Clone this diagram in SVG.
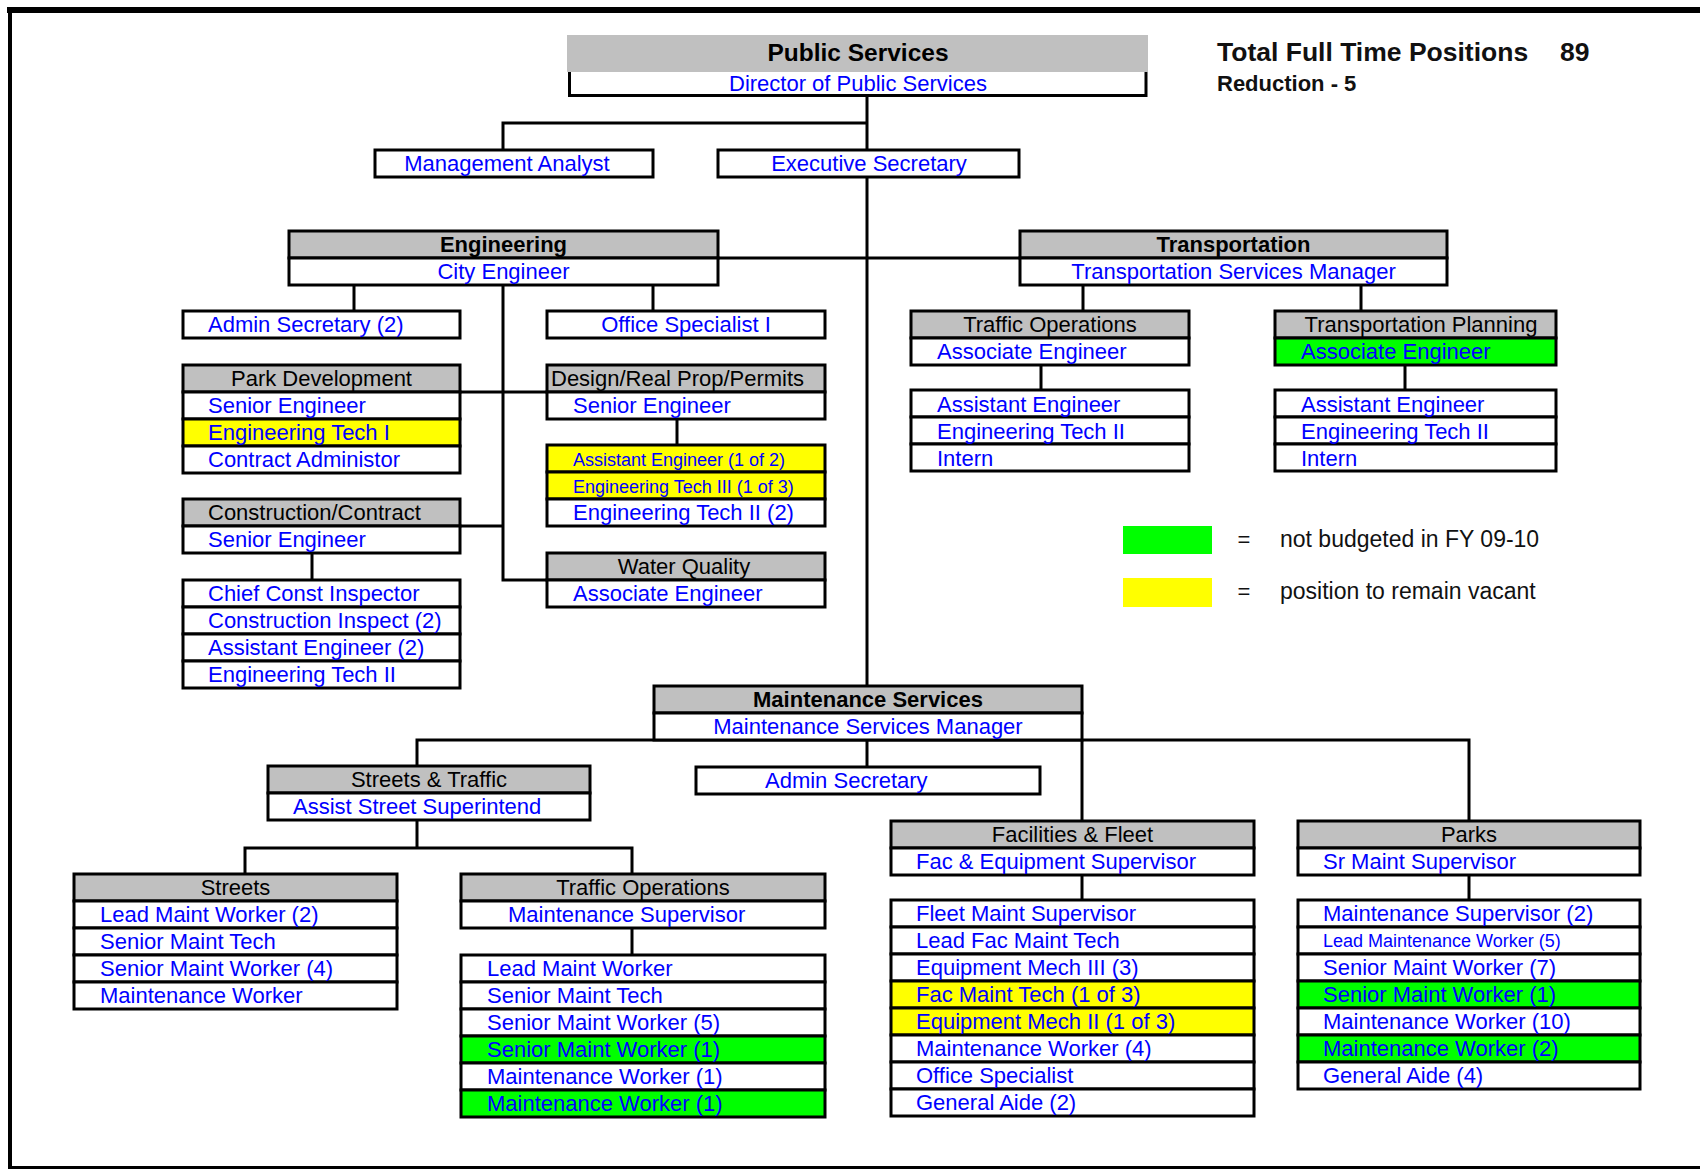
<svg xmlns="http://www.w3.org/2000/svg" width="1700" height="1169" viewBox="0 0 1700 1169">
  <style>
    .row { fill: #ffffff; stroke: #000000; stroke-width: 3; }
    .gray { fill: #c0c0c0; }
    .yel { fill: #ffff00; }
    .grn { fill: #00ff00; }
    .conn { stroke: #000000; stroke-width: 3; fill: none; }
    text { font-family: "Liberation Sans", Arial, Helvetica, sans-serif; font-size: 22px; }
    .t { fill: #0000ff; }
    .s { font-size: 18px; }
    .h { fill: #000000; text-anchor: middle; }
    .hl { fill: #000000; }
    .c { text-anchor: middle; }
    .b { font-weight: bold; }
    .k { fill: #111111; }
  </style>

  <!-- page frame -->
  <g id="frame" fill="none" stroke="#000">
    <line x1="7" y1="10" x2="1700" y2="10" stroke-width="6"/>
    <line x1="10" y1="8" x2="10" y2="1168" stroke-width="4"/>
    <line x1="8" y1="1167.5" x2="1700" y2="1167.5" stroke-width="3"/>
  </g>

  <!-- reporting lines -->
  <g id="connectors" class="conn">
    <path d="M867,96 V686"/>
    <path d="M867,123 H503 V150"/>
    <path d="M718,258 H1020"/>
    <path d="M354,285 V311 M653,285 V311"/>
    <path d="M503,285 V580 H547"/>
    <path d="M460,392 H547"/>
    <path d="M460,526 H503"/>
    <path d="M312,553 V580"/>
    <path d="M677,419 V445"/>
    <path d="M1083,285 V311 M1361,285 V311"/>
    <path d="M1041,365 V390 M1405,365 V390"/>
    <path d="M417,766 V740 H1469 V821"/>
    <path d="M867,740 V767"/>
    <path d="M1082,740 V821"/>
    <path d="M417,820 V848 M245,874 V848 H632 V874"/>
    <path d="M632,928 V955"/>
    <path d="M1082,875 V900"/>
    <path d="M1469,875 V900"/>
  </g>

  <!-- headline -->
  <g id="public-services">
    <rect x="567" y="35" width="581" height="37" class="gray"/>
    <rect x="569.5" y="72" width="576.5" height="23.5" fill="#fff"/>
    <path d="M569.5,72 V95.5 H1146 V72" class="conn"/>
    <text x="858" y="61" class="h b" style="font-size:24.5px">Public Services</text>
    <text x="858" y="90.5" class="t c">Director of Public Services</text>
  </g>

  <g id="totals">
    <text x="1217" y="61" class="k b" style="font-size:26.5px">Total Full Time Positions</text>
    <text x="1560" y="61" class="k b" style="font-size:26.5px">89</text>
    <text x="1217" y="91" class="k b">Reduction - 5</text>
  </g>

  <g id="management-analyst">
    <rect x="375" y="150" width="278" height="27" class="row"/>
    <text x="507" y="171" class="t c">Management Analyst</text>
  </g>

  <g id="executive-secretary">
    <rect x="718" y="150" width="301" height="27" class="row"/>
    <text x="869" y="171" class="t c">Executive Secretary</text>
  </g>

  <!-- Engineering -->
  <g id="engineering">
    <rect x="289" y="231" width="429" height="27" class="row gray"/>
    <rect x="289" y="258" width="429" height="27" class="row"/>
    <text x="503.5" y="252" class="h b">Engineering</text>
    <text x="503.5" y="279" class="t c">City Engineer</text>
  </g>

  <g id="eng-admin-secretary">
    <rect x="183" y="311" width="277" height="27" class="row"/>
    <text x="208" y="332" class="t">Admin Secretary (2)</text>
  </g>

  <g id="eng-office-specialist">
    <rect x="547" y="311" width="278" height="27" class="row"/>
    <text x="686" y="332" class="t c">Office Specialist I</text>
  </g>

  <g id="park-development">
    <rect x="183" y="365" width="277" height="27" class="row gray"/>
    <rect x="183" y="392" width="277" height="27" class="row"/>
    <rect x="183" y="419" width="277" height="27" class="row yel"/>
    <rect x="183" y="446" width="277" height="27" class="row"/>
    <text x="321.5" y="386" class="h">Park Development</text>
    <text x="208" y="413" class="t">Senior Engineer</text>
    <text x="208" y="440" class="t">Engineering Tech I</text>
    <text x="208" y="467" class="t">Contract Administor</text>
  </g>

  <g id="design-real-prop">
    <rect x="547" y="365" width="278" height="27" class="row gray"/>
    <rect x="547" y="392" width="278" height="27" class="row"/>
    <text x="551" y="386" class="hl">Design/Real Prop/Permits</text>
    <text x="573" y="413" class="t">Senior Engineer</text>
  </g>

  <g id="design-staff">
    <rect x="547" y="445" width="278" height="27" class="row yel"/>
    <rect x="547" y="472" width="278" height="27" class="row yel"/>
    <rect x="547" y="499" width="278" height="27" class="row"/>
    <text x="573" y="466" class="t s">Assistant Engineer (1 of 2)</text>
    <text x="573" y="493" class="t s">Engineering Tech III (1 of 3)</text>
    <text x="573" y="520" class="t">Engineering Tech II (2)</text>
  </g>

  <g id="construction-contract">
    <rect x="183" y="499" width="277" height="27" class="row gray"/>
    <rect x="183" y="526" width="277" height="27" class="row"/>
    <text x="208" y="520" class="hl">Construction/Contract</text>
    <text x="208" y="547" class="t">Senior Engineer</text>
  </g>

  <g id="construction-staff">
    <rect x="183" y="580" width="277" height="27" class="row"/>
    <rect x="183" y="607" width="277" height="27" class="row"/>
    <rect x="183" y="634" width="277" height="27" class="row"/>
    <rect x="183" y="661" width="277" height="27" class="row"/>
    <text x="208" y="601" class="t">Chief Const Inspector</text>
    <text x="208" y="628" class="t">Construction Inspect (2)</text>
    <text x="208" y="655" class="t">Assistant Engineer (2)</text>
    <text x="208" y="682" class="t">Engineering Tech II</text>
  </g>

  <g id="water-quality">
    <rect x="547" y="553" width="278" height="27" class="row gray"/>
    <rect x="547" y="580" width="278" height="27" class="row"/>
    <text x="684" y="574" class="h">Water Quality</text>
    <text x="573" y="601" class="t">Associate Engineer</text>
  </g>

  <!-- Transportation -->
  <g id="transportation">
    <rect x="1020" y="231" width="427" height="27" class="row gray"/>
    <rect x="1020" y="258" width="427" height="27" class="row"/>
    <text x="1233.5" y="252" class="h b">Transportation</text>
    <text x="1233.5" y="279" class="t c">Transportation Services Manager</text>
  </g>

  <g id="traffic-operations-eng">
    <rect x="911" y="311" width="278" height="27" class="row gray"/>
    <rect x="911" y="338" width="278" height="27" class="row"/>
    <text x="1050" y="332" class="h">Traffic Operations</text>
    <text x="937" y="359" class="t">Associate Engineer</text>
  </g>

  <g id="traffic-operations-staff">
    <rect x="911" y="390" width="278" height="27" class="row"/>
    <rect x="911" y="417" width="278" height="27" class="row"/>
    <rect x="911" y="444" width="278" height="27" class="row"/>
    <text x="937" y="412" class="t">Assistant Engineer</text>
    <text x="937" y="439" class="t">Engineering Tech II</text>
    <text x="937" y="466" class="t">Intern</text>
  </g>

  <g id="transportation-planning">
    <rect x="1275" y="311" width="281" height="27" class="row gray"/>
    <rect x="1275" y="338" width="281" height="27" class="row grn"/>
    <text x="1421" y="332" class="h">Transportation Planning</text>
    <text x="1301" y="359" class="t">Associate Engineer</text>
  </g>

  <g id="transportation-planning-staff">
    <rect x="1275" y="390" width="281" height="27" class="row"/>
    <rect x="1275" y="417" width="281" height="27" class="row"/>
    <rect x="1275" y="444" width="281" height="27" class="row"/>
    <text x="1301" y="412" class="t">Assistant Engineer</text>
    <text x="1301" y="439" class="t">Engineering Tech II</text>
    <text x="1301" y="466" class="t">Intern</text>
  </g>

  <!-- colour key -->
  <g id="legend">
    <rect x="1123" y="526" width="89" height="28" class="grn"/>
    <rect x="1123" y="578" width="89" height="29" class="yel"/>
    <text x="1244" y="547" class="k c">=</text>
    <text x="1244" y="599" class="k c">=</text>
    <text x="1280" y="547" class="k" style="font-size:23px">not budgeted in FY 09-10</text>
    <text x="1280" y="599" class="k" style="font-size:23px">position to remain vacant</text>
  </g>

  <!-- Maintenance Services -->
  <g id="maintenance-services">
    <rect x="654" y="686" width="428" height="27" class="row gray"/>
    <rect x="654" y="713" width="428" height="27" class="row"/>
    <text x="868" y="707" class="h b">Maintenance Services</text>
    <text x="868" y="734" class="t c">Maintenance Services Manager</text>
  </g>

  <g id="maint-admin-secretary">
    <rect x="696" y="767" width="344" height="27" class="row"/>
    <text x="765" y="788" class="t">Admin Secretary</text>
  </g>

  <g id="streets-traffic">
    <rect x="268" y="766" width="322" height="27" class="row gray"/>
    <rect x="268" y="793" width="322" height="27" class="row"/>
    <text x="429" y="787" class="h">Streets &amp; Traffic</text>
    <text x="293" y="814" class="t">Assist Street Superintend</text>
  </g>

  <g id="streets">
    <rect x="74" y="874" width="323" height="27" class="row gray"/>
    <rect x="74" y="901" width="323" height="27" class="row"/>
    <rect x="74" y="928" width="323" height="27" class="row"/>
    <rect x="74" y="955" width="323" height="27" class="row"/>
    <rect x="74" y="982" width="323" height="27" class="row"/>
    <text x="235.5" y="895" class="h">Streets</text>
    <text x="100" y="922" class="t">Lead Maint Worker (2)</text>
    <text x="100" y="949" class="t">Senior Maint Tech</text>
    <text x="100" y="976" class="t">Senior Maint Worker (4)</text>
    <text x="100" y="1003" class="t">Maintenance Worker</text>
  </g>

  <g id="traffic-operations-maint">
    <rect x="461" y="874" width="364" height="27" class="row gray"/>
    <rect x="461" y="901" width="364" height="27" class="row"/>
    <text x="643" y="895" class="h">Traffic Operations</text>
    <text x="508" y="922" class="t">Maintenance Supervisor</text>
  </g>

  <g id="traffic-operations-maint-staff">
    <rect x="461" y="955" width="364" height="27" class="row"/>
    <rect x="461" y="982" width="364" height="27" class="row"/>
    <rect x="461" y="1009" width="364" height="27" class="row"/>
    <rect x="461" y="1036" width="364" height="27" class="row grn"/>
    <rect x="461" y="1063" width="364" height="27" class="row"/>
    <rect x="461" y="1090" width="364" height="27" class="row grn"/>
    <text x="487" y="976" class="t">Lead Maint Worker</text>
    <text x="487" y="1003" class="t">Senior Maint Tech</text>
    <text x="487" y="1030" class="t">Senior Maint Worker (5)</text>
    <text x="487" y="1057" class="t">Senior Maint Worker (1)</text>
    <text x="487" y="1084" class="t">Maintenance Worker (1)</text>
    <text x="487" y="1111" class="t">Maintenance Worker (1)</text>
  </g>

  <g id="facilities-fleet">
    <rect x="891" y="821" width="363" height="27" class="row gray"/>
    <rect x="891" y="848" width="363" height="27" class="row"/>
    <text x="1072.5" y="842" class="h">Facilities &amp; Fleet</text>
    <text x="916" y="869" class="t">Fac &amp; Equipment Supervisor</text>
  </g>

  <g id="facilities-fleet-staff">
    <rect x="891" y="900" width="363" height="27" class="row"/>
    <rect x="891" y="927" width="363" height="27" class="row"/>
    <rect x="891" y="954" width="363" height="27" class="row"/>
    <rect x="891" y="981" width="363" height="27" class="row yel"/>
    <rect x="891" y="1008" width="363" height="27" class="row yel"/>
    <rect x="891" y="1035" width="363" height="27" class="row"/>
    <rect x="891" y="1062" width="363" height="27" class="row"/>
    <rect x="891" y="1089" width="363" height="27" class="row"/>
    <text x="916" y="921" class="t">Fleet Maint Supervisor</text>
    <text x="916" y="948" class="t">Lead Fac Maint Tech</text>
    <text x="916" y="975" class="t">Equipment Mech III (3)</text>
    <text x="916" y="1002" class="t">Fac Maint Tech (1 of 3)</text>
    <text x="916" y="1029" class="t">Equipment Mech II (1 of 3)</text>
    <text x="916" y="1056" class="t">Maintenance Worker (4)</text>
    <text x="916" y="1083" class="t">Office Specialist</text>
    <text x="916" y="1110" class="t">General Aide (2)</text>
  </g>

  <g id="parks">
    <rect x="1298" y="821" width="342" height="27" class="row gray"/>
    <rect x="1298" y="848" width="342" height="27" class="row"/>
    <text x="1469" y="842" class="h">Parks</text>
    <text x="1323" y="869" class="t">Sr Maint Supervisor</text>
  </g>

  <g id="parks-staff">
    <rect x="1298" y="900" width="342" height="27" class="row"/>
    <rect x="1298" y="927" width="342" height="27" class="row"/>
    <rect x="1298" y="954" width="342" height="27" class="row"/>
    <rect x="1298" y="981" width="342" height="27" class="row grn"/>
    <rect x="1298" y="1008" width="342" height="27" class="row"/>
    <rect x="1298" y="1035" width="342" height="27" class="row grn"/>
    <rect x="1298" y="1062" width="342" height="27" class="row"/>
    <text x="1323" y="921" class="t">Maintenance Supervisor (2)</text>
    <text x="1323" y="947" class="t s">Lead Maintenance Worker (5)</text>
    <text x="1323" y="975" class="t">Senior Maint Worker (7)</text>
    <text x="1323" y="1002" class="t">Senior Maint Worker (1)</text>
    <text x="1323" y="1029" class="t">Maintenance Worker (10)</text>
    <text x="1323" y="1056" class="t">Maintenance Worker (2)</text>
    <text x="1323" y="1083" class="t">General Aide (4)</text>
  </g>
</svg>
